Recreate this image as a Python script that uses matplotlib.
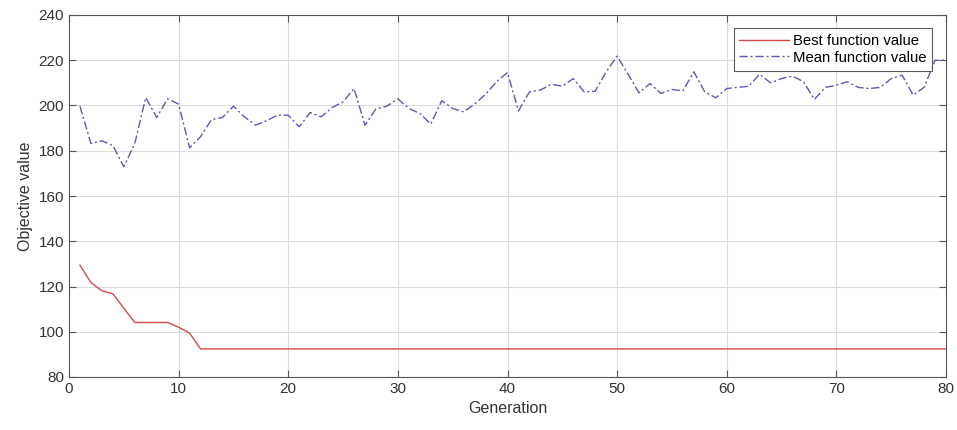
import numpy as np
import matplotlib
matplotlib.use("Agg")
import matplotlib.pyplot as plt

generations = np.arange(1, 81)

best_values = [129.4, 121.8, 118.1, 116.8, 110.4, 104.1, 104.1, 104.1, 104.1, 102.0,
               99.4, 92.4] + [92.4] * 68

mean_values = [199.7, 183.2, 184.4, 182.3, 172.9, 183.2, 203.5, 194.7, 203.0, 200.6,
               181.3, 186.2, 193.8, 194.7, 199.7, 195.0, 191.3, 193.2, 195.7, 195.7,
               190.6, 196.9, 195.0, 199.1, 201.6, 207.5, 191.3, 198.5, 199.7, 202.9,
               198.7, 196.5, 191.8, 202.1, 198.7, 197.2, 200.6, 205.0, 210.5, 214.6,
               197.6, 206.0, 206.8, 209.4, 208.5, 211.9, 206.0, 206.3, 214.9, 221.8,
               213.8, 205.6, 209.7, 205.3, 207.1, 206.5, 214.9, 206.0, 203.4, 207.5,
               208.0, 208.5, 213.8, 210.0, 211.9, 213.0, 210.5, 202.7, 208.0, 209.0,
               210.5, 208.0, 207.5, 208.0, 211.9, 213.4, 204.6, 208.0, 220.0, 220.0]

legend_labels = ["Best function value", "Mean function value"]

plt.rcParams['font.family'] = ['Liberation Sans', 'DejaVu Sans']

fig = plt.figure(figsize=(9.57, 4.30), dpi=100)
ax = fig.add_axes([69 / 957, 1 - 377 / 430, (946 - 69) / 957, (377 - 15) / 430])

ax.plot(generations, best_values, color='#d24a4a', linewidth=1.0, label=legend_labels[0])
ax.plot(generations, mean_values, color='#5a5ab4', linewidth=1.0, linestyle='-.',
        dashes=(6, 2, 1.5, 2), label=legend_labels[1])

ax.set_xlim(0, 80)
ax.set_ylim(80, 240)
ax.set_xticks(np.arange(0, 81, 10))
ax.set_yticks(np.arange(80, 241, 20))
ax.grid(True, color='#dcdcdc', linewidth=0.8)
ax.set_axisbelow(True)

for side in ['left', 'right', 'top', 'bottom']:
    ax.spines[side].set_color('#555555')
    ax.spines[side].set_linewidth(0.8)
ax.tick_params(direction='in', top=True, right=True, length=5, width=0.8,
               color='#555555', labelcolor='#333333', labelsize=11)

ax.set_xlabel('Generation', fontsize=11.5, color='#333333')
ax.set_ylabel('Objective value', fontsize=11.5, color='#333333')

leg = ax.legend(loc='upper right', bbox_to_anchor=(0.9845, 0.963), fontsize=10.7,
                frameon=True, fancybox=False, handlelength=3.3, borderpad=0.4,
                labelspacing=0.15, handletextpad=0.3, borderaxespad=0)
leg.get_frame().set_edgecolor('#333333')
leg.get_frame().set_linewidth(0.8)

fig.savefig('out.png', dpi=100)
